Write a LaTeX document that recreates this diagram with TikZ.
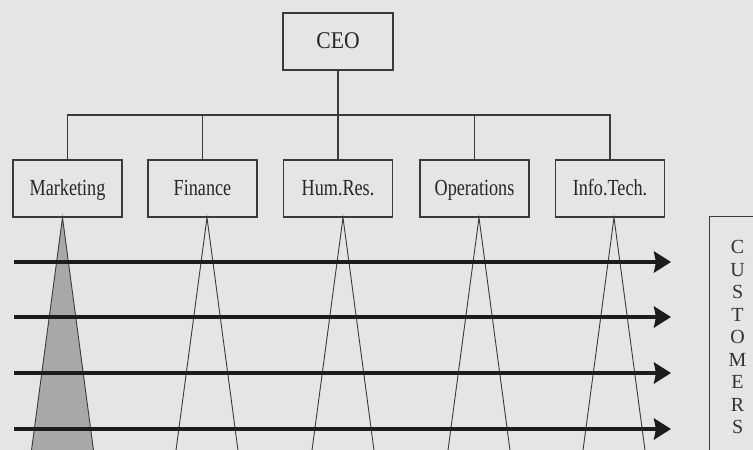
\documentclass[tikz,border=0pt]{standalone}
\usepackage{fontspec}
\usepackage{xcolor}
\usepackage{tikz}
\usetikzlibrary{arrows.meta, positioning, calc}
\setmainfont{Liberation Serif}
\newfontfamily\narrowserif[FakeStretch=0.79]{Liberation Serif}
\newfontfamily\headserif[FakeStretch=0.9]{Liberation Serif}
\definecolor{paper}{RGB}{229, 229, 229}
\definecolor{inkline}{RGB}{58, 58, 58}
\definecolor{inkarrow}{RGB}{28, 28, 28}
\definecolor{shade}{RGB}{168, 168, 168}

\begin{document}
\begin{tikzpicture}[
    x=1pt, y=-1pt,
    unit/.style={rectangle, draw=inkline, line width=1.2pt, fill=paper, minimum width=109pt, minimum height=57pt, inner sep=0pt, text height=16pt, text depth=3pt, text=black!85, font=\narrowserif\fontsize{23}{26}\selectfont},
    link/.style={draw=inkline, line width=1.2pt},
    cone/.style={draw=inkline, line width=0.9pt},
    flow/.style={-{Stealth[length=17pt, width=21pt, inset=2pt]}, line width=4.5pt, inkarrow},
    custbox/.style={rectangle, draw=inkline, line width=1.2pt, anchor=north west, text width=56pt, inner xsep=0pt, align=center, minimum height=241pt, text=black!80, font=\fontsize{20}{22.5}\selectfont}
]
\useasboundingbox (0,0) rectangle (753,450);
\clip (0,0) rectangle (753,450);
\fill[paper] (0,0) rectangle (753,450);

\node[unit, minimum width=110pt, font=\headserif\fontsize{24}{28}\selectfont] (ceo) at (338, 41.5) {CEO};
\node[unit] (mkt) at (67.5, 188.5) {Marketing};
\node[unit] (fin) at (202.5, 188.5) {Finance};
\node[unit] (hr) at (338, 188.5) {Hum.Res.};
\node[unit] (ops) at (474.5, 188.5) {Operations};
\node[unit] (it) at (610, 188.5) {Info.Tech.};

% reporting lines
\coordinate (bus) at (0, 115);
\draw[link] (ceo.south) -- (ceo.south |- bus);
\draw[link] (mkt.north) |- (bus -| it.north) -- (it.north);
\foreach \d in {fin, hr, ops}
    \draw[link] (\d.north) -- (\d.north |- bus);

% functional silos
\filldraw[cone, fill=shade] ($(mkt.south)+(-5, 0)$) -- ($(mkt.south)+(-38.7, 253)$) -- ($(mkt.south)+(28.7, 253)$) -- cycle;
\foreach \d/\dx in {fin/4.5, hr/5, ops/4.5, it/4}
    \draw[cone] ($(\d.south)+(\dx-33.7, 253)$) -- ($(\d.south)+(\dx, 0)$) -- ($(\d.south)+(\dx+33.7, 253)$);

% processes across
\node[custbox] (cust) at (709, 216) {C\\U\\S\\T\\O\\M\\E\\R\\S};
\foreach \y [count=\i] in {262, 317, 373, 429} {
    \coordinate (src\i) at (14, \y);
    \coordinate (dst\i) at (671, \y);
    \draw[flow] (src\i) -- (dst\i);
}

\end{tikzpicture}
\end{document}
